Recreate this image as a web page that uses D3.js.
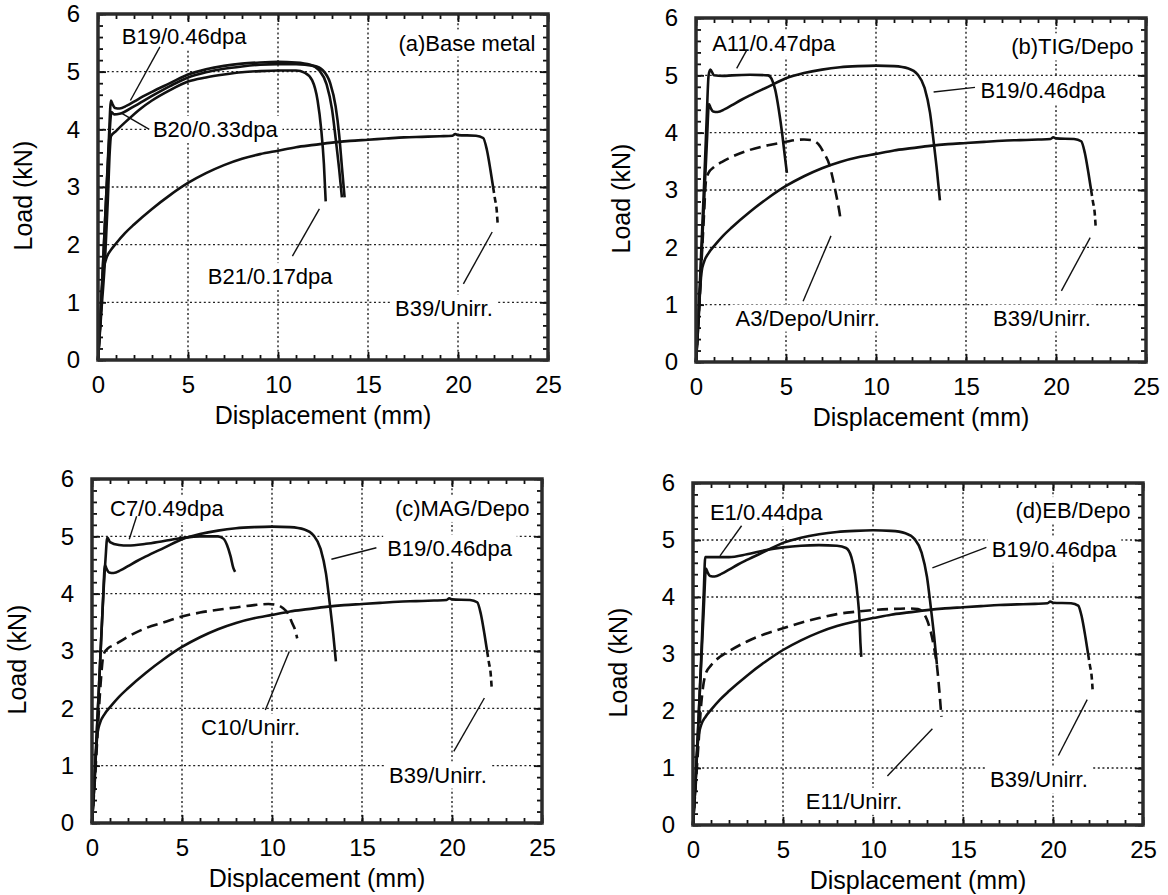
<!DOCTYPE html>
<html>
<head>
<meta charset="utf-8">
<script src="https://cdn.jsdelivr.net/npm/d3@7"></script>
<style>
  html, body { margin: 0; padding: 0; background: #fff; }
  svg { display: block; }
  text { font-family: "Liberation Sans", Arial, Helvetica, sans-serif; fill: #000; }
</style>
</head>
<body>
<svg id="chart" width="1168" height="895"></svg>
<script>
// Axis ticks
const xTicks = [0, 5, 10, 15, 20, 25];
const yTicks = [0, 1, 2, 3, 4, 5, 6];

// Load–displacement records: [displacement (mm), load (kN)]
const B39 = [[0,0],[0.1,0.5],[0.2,1.1],[0.3,1.55],[0.45,1.75],[0.7,1.9],[1,2.02],[1.5,2.2],[2,2.35],[3,2.62],[4,2.86],[5,3.07],[6,3.24],[7,3.38],[8,3.49],[9,3.57],[10,3.63],[11,3.69],[12,3.73],[13,3.77],[14,3.8],[15,3.82],[16,3.84],[17,3.86],[18,3.87],[19,3.88],[19.7,3.89],[19.85,3.92],[20,3.9],[21,3.89],[21.4,3.85],[21.6,3.65],[21.8,3.3],[21.95,3.0]];
const B39tail = [[21.95,3.0],[22.05,2.8],[22.15,2.6],[22.2,2.38]];
const B19 = [[0,0],[0.15,0.8],[0.3,1.8],[0.45,2.8],[0.6,3.8],[0.72,4.5],[0.8,4.44],[0.95,4.37],[1.2,4.36],[1.6,4.41],[2,4.48],[2.5,4.57],[3,4.65],[4,4.8],[5,4.95],[6,5.04],[7,5.1],[8,5.14],[9,5.16],[10,5.17],[11,5.16],[11.8,5.12],[12.3,5.02],[12.7,4.78],[13,4.35],[13.2,3.85],[13.4,3.3],[13.55,2.82]];
const B20 = [[0,0],[0.15,0.8],[0.3,1.8],[0.45,2.8],[0.6,3.7],[0.75,4.3],[0.9,4.26],[1.2,4.27],[2,4.4],[3,4.58],[4,4.75],[5,4.9],[6,4.99],[7,5.05],[8,5.09],[9,5.12],[10,5.13],[11,5.13],[12,5.1],[12.5,5.02],[12.9,4.8],[13.2,4.4],[13.4,3.9],[13.55,3.35],[13.7,2.82]];
const B21 = [[0,0],[0.2,0.9],[0.4,1.8],[0.55,2.8],[0.65,3.6],[0.72,3.88],[1,3.97],[1.5,4.12],[2.33,4.35],[3,4.5],[4,4.68],[5,4.83],[6,4.9],[7,4.95],[8,4.99],[9,5.01],[10,5.02],[11,5.02],[11.5,4.98],[11.9,4.85],[12.2,4.5],[12.4,4.0],[12.55,3.4],[12.65,2.75]];
const A11 = [[0,0],[0.15,0.9],[0.3,2.0],[0.45,3.1],[0.6,4.3],[0.7,5.0],[0.8,5.1],[1,5.0],[1.5,4.99],[2,5.0],[3,5.01],[4,5.0],[4.2,4.94],[4.4,4.75],[4.6,4.4],[4.8,3.95],[4.95,3.55],[5.05,3.3]];
const A3 = [[0,0],[0.15,0.8],[0.3,1.7],[0.45,2.6],[0.55,3.15],[0.7,3.3],[1,3.4],[1.5,3.5],[2,3.58],[3,3.7],[4,3.78],[5,3.84],[5.5,3.87],[6,3.88],[6.4,3.87],[6.8,3.8],[7.1,3.65],[7.4,3.45],[7.6,3.2],[7.8,2.9],[7.95,2.65],[8.05,2.45]];
const C7 = [[0,0],[0.15,0.8],[0.3,1.8],[0.45,2.8],[0.6,3.8],[0.75,4.6],[0.85,4.98],[1,4.9],[1.5,4.85],[2,4.84],[3,4.87],[4,4.92],[5,4.97],[6,5.0],[7,5.0],[7.3,4.96],[7.5,4.85],[7.7,4.65],[7.85,4.45],[7.95,4.38]];
const C10 = [[0,0],[0.15,0.7],[0.3,1.5],[0.45,2.3],[0.65,2.95],[0.9,3.05],[1.2,3.1],[2,3.25],[3,3.4],[4,3.5],[5,3.6],[6,3.67],[7,3.72],[8,3.76],[9,3.8],[9.8,3.82],[10.3,3.8],[10.6,3.75],[10.9,3.65],[11.1,3.5],[11.3,3.35],[11.4,3.22]];
const E1 = [[0,0],[0.15,0.8],[0.3,1.8],[0.45,2.9],[0.6,4.1],[0.68,4.7],[1,4.7],[2,4.7],[3,4.75],[4,4.82],[5,4.87],[6,4.9],[7,4.91],[8,4.9],[8.5,4.86],[8.8,4.7],[9,4.4],[9.15,4.0],[9.25,3.6],[9.3,3.2],[9.35,2.95]];
const E11 = [[0,0],[0.15,0.7],[0.3,1.4],[0.45,2.1],[0.55,2.4],[0.7,2.65],[1,2.8],[1.5,2.95],[2,3.05],[3,3.22],[4,3.35],[5,3.45],[6,3.55],[7,3.63],[8,3.7],[9,3.74],[10,3.77],[11,3.79],[12,3.8],[12.5,3.79],[12.8,3.72],[13,3.6],[13.2,3.4],[13.4,3.1],[13.55,2.8],[13.7,2.3],[13.8,1.9]];

// Panels: curves and their annotations (annotation anchors in data units)
const panels = [
  {
    series: [{ data: B21 }, { data: B20 }, { data: B19 }, { data: B39 }, { data: B39tail, dash: "6,4" }],
    notes: [
      { text: "B19/0.46dpa", x: 1.32, y: 5.62, from: [3.44, 5.43], to: [1.8, 4.5] },
      { text: "B20/0.33dpa", x: 3.05, y: 4.0, from: [2.85, 4.0], to: [1.3, 4.28] },
      { text: "(a)Base metal", x: 24.3, y: 5.5, anchor: "end" },
      { text: "B21/0.17dpa", x: 6.1, y: 1.45, from: [10.8, 1.8], to: [12.3, 2.62] },
      { text: "B39/Unirr.", x: 16.5, y: 0.9, from: [20.3, 1.32], to: [21.9, 2.22] }
    ]
  },
  {
    series: [{ data: A11 }, { data: B19 }, { data: A3, dash: "11,6" }, { data: B39 }, { data: B39tail, dash: "6,4" }],
    notes: [
      { text: "A11/0.47dpa", x: 0.9, y: 5.56, from: [2.82, 5.44], to: [2.26, 5.12] },
      { text: "(b)TIG/Depo", x: 24.3, y: 5.5, anchor: "end" },
      { text: "B19/0.46dpa", x: 15.8, y: 4.74, from: [15.5, 4.79], to: [13.2, 4.71] },
      { text: "A3/Depo/Unirr.", x: 2.2, y: 0.77, from: [5.95, 1.06], to: [7.5, 2.2] },
      { text: "B39/Unirr.", x: 16.5, y: 0.77, from: [20.3, 1.24], to: [21.9, 2.17] }
    ]
  },
  {
    series: [{ data: C7 }, { data: B19 }, { data: C10, dash: "11,6" }, { data: B39 }, { data: B39tail, dash: "6,4" }],
    notes: [
      { text: "C7/0.49dpa", x: 1.0, y: 5.49, from: [2.48, 5.35], to: [2.07, 4.95] },
      { text: "(c)MAG/Depo", x: 24.3, y: 5.49, anchor: "end" },
      { text: "B19/0.46dpa", x: 16.4, y: 4.8, from: [15.8, 4.8], to: [13.3, 4.6] },
      { text: "C10/Unirr.", x: 6.06, y: 1.67, from: [9.63, 1.97], to: [10.96, 2.99] },
      { text: "B39/Unirr.", x: 16.5, y: 0.84, from: [20.1, 1.25], to: [21.8, 2.18] }
    ]
  },
  {
    series: [{ data: E1 }, { data: B19 }, { data: E11, dash: "11,6" }, { data: B39 }, { data: B39tail, dash: "6,4" }],
    notes: [
      { text: "E1/0.44dpa", x: 0.94, y: 5.48, from: [2.7, 5.25], to: [1.5, 4.72] },
      { text: "(d)EB/Depo", x: 24.3, y: 5.52, anchor: "end" },
      { text: "B19/0.46dpa", x: 16.6, y: 4.84, from: [16.3, 4.87], to: [13.3, 4.51] },
      { text: "E11/Unirr.", x: 6.27, y: 0.42, from: [10.8, 0.86], to: [13.3, 1.69] },
      { text: "B39/Unirr.", x: 16.5, y: 0.8, from: [20.3, 1.22], to: [21.9, 2.2] }
    ]
  }
];

// Plot-area boxes for the 2x2 grid
const boxes = [
  { l: 98,  r: 548,  t: 14,  b: 360 },
  { l: 696, r: 1146, t: 18,  b: 362 },
  { l: 92,  r: 542,  t: 479, b: 823 },
  { l: 693, r: 1143, t: 483, b: 825 }
];

const FONT = '"Liberation Sans", Arial, Helvetica, sans-serif';
const INK = "#111";
const svg = d3.select("#chart");

panels.forEach((p, i) => {
  const box = boxes[i];
  const x = d3.scaleLinear().domain([0, 25]).range([box.l, box.r]);
  const y = d3.scaleLinear().domain([0, 6]).range([box.b, box.t]);

  const g = svg.append("g");
  const gGrid = g.append("g");
  const gMask = g.append("g");
  const gCurve = g.append("g");
  const gNote = g.append("g");
  const gAxis = g.append("g");

  // dotted grid
  gGrid.selectAll("line.gx").data(xTicks.slice(1, -1)).join("line")
    .attr("class", "gx")
    .attr("x1", d => x(d)).attr("x2", d => x(d))
    .attr("y1", box.t).attr("y2", box.b);
  gGrid.selectAll("line.gy").data(yTicks.slice(1, -1)).join("line")
    .attr("class", "gy")
    .attr("x1", box.l).attr("x2", box.r)
    .attr("y1", d => y(d)).attr("y2", d => y(d));
  gGrid.selectAll("line")
    .attr("stroke", "#222").attr("stroke-width", 1.4).attr("stroke-dasharray", "2,2.6");

  // load–displacement curves
  const line = d3.line().x(d => x(d[0])).y(d => y(d[1])).curve(d3.curveMonotoneX);
  p.series.forEach(s => {
    gCurve.append("path")
      .attr("d", line(s.data))
      .attr("fill", "none")
      .attr("stroke", INK)
      .attr("stroke-width", 2.6)
      .attr("stroke-linejoin", "round")
      .attr("stroke-dasharray", s.dash || null);
  });

  // annotations with white backing so the grid stops at the text
  p.notes.forEach(n => {
    const t = gNote.append("text")
      .attr("x", x(n.x)).attr("y", y(n.y))
      .attr("dy", "0.35em")
      .attr("text-anchor", n.anchor || "start")
      .attr("font-size", 22)
      .attr("font-family", FONT)
      .text(n.text);
    const bb = t.node().getBBox();
    gMask.append("rect")
      .attr("x", bb.x - 4).attr("y", bb.y - 1)
      .attr("width", bb.width + 8).attr("height", bb.height + 2)
      .attr("fill", "#fff");
    if (n.from) {
      gNote.append("line")
        .attr("x1", x(n.from[0])).attr("y1", y(n.from[1]))
        .attr("x2", x(n.to[0])).attr("y2", y(n.to[1]))
        .attr("stroke", INK).attr("stroke-width", 1.4);
    }
  });

  // inward ticks on all four sides
  const minorX = d3.range(0, 26, 1);
  const minorY = d3.range(0, 6.01, 0.2).map(v => +v.toFixed(1));
  const addAxis = (axis, tx, ty) => gAxis.append("g").attr("transform", `translate(${tx},${ty})`).call(axis);

  const axes = [
    addAxis(d3.axisBottom(x).tickValues(minorX).tickSize(-5).tickFormat(""), 0, box.b),
    addAxis(d3.axisTop(x).tickValues(minorX).tickSize(-5).tickFormat(""), 0, box.t),
    addAxis(d3.axisLeft(y).tickValues(minorY).tickSize(-5).tickFormat(""), box.l, 0),
    addAxis(d3.axisRight(y).tickValues(minorY).tickSize(-5).tickFormat(""), box.r, 0),
    addAxis(d3.axisTop(x).tickValues(xTicks).tickSize(-8).tickFormat(""), 0, box.t),
    addAxis(d3.axisRight(y).tickValues(yTicks).tickSize(-8).tickFormat(""), box.r, 0),
    addAxis(d3.axisBottom(x).tickValues(xTicks).tickSize(-8).tickPadding(16).tickFormat(d3.format("d")), 0, box.b),
    addAxis(d3.axisLeft(y).tickValues(yTicks).tickSize(-8).tickPadding(18).tickFormat(d3.format("d")), box.l, 0)
  ];
  axes.forEach(a => {
    a.select(".domain").remove();
    a.selectAll(".tick line").attr("stroke", INK).attr("stroke-width", 1.8);
    a.selectAll(".tick text").attr("font-size", 24).attr("font-family", FONT).attr("fill", "#000");
  });

  // frame
  gAxis.append("rect")
    .attr("x", box.l).attr("y", box.t)
    .attr("width", box.r - box.l).attr("height", box.b - box.t)
    .attr("fill", "none").attr("stroke", "#2b2b2b").attr("stroke-width", 3.5);

  // axis titles
  gAxis.append("text")
    .attr("x", (box.l + box.r) / 2).attr("y", box.b + 64)
    .attr("text-anchor", "middle").attr("font-size", 25).attr("font-family", FONT)
    .text("Displacement (mm)");
  gAxis.append("text")
    .attr("transform", `translate(${box.l - 66},${y(2.85)}) rotate(-90)`)
    .attr("text-anchor", "middle").attr("font-size", 25).attr("font-family", FONT)
    .text("Load (kN)");
});
</script>
</body>
</html>
